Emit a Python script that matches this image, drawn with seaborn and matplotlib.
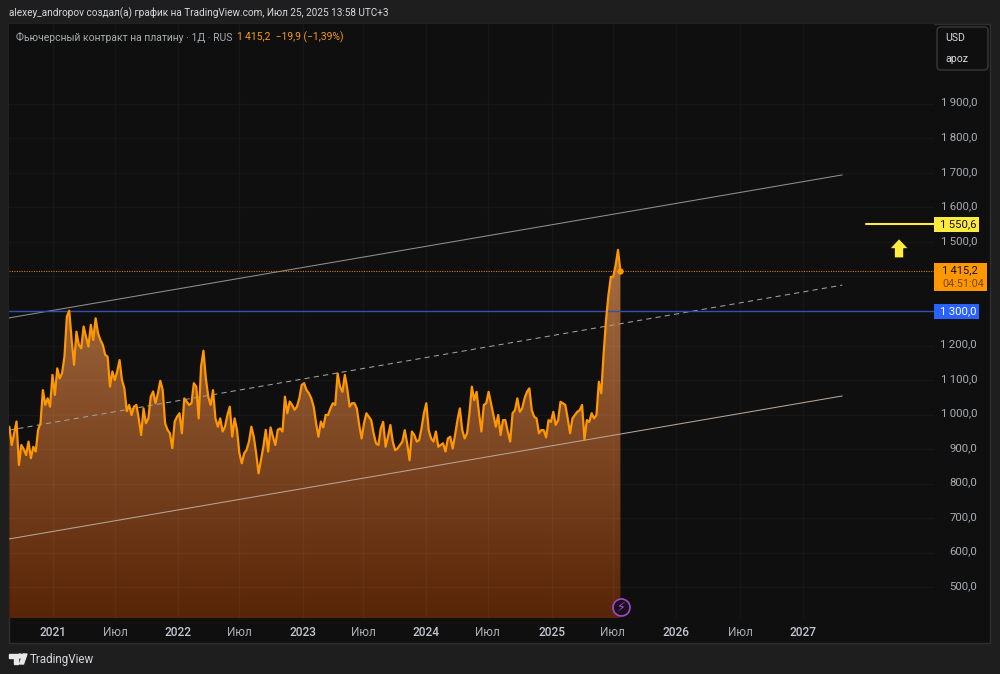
import pandas as pd
import numpy as np
import seaborn as sns
import matplotlib.pyplot as plt
import matplotlib.dates as mdates
from matplotlib.patches import Rectangle, FancyBboxPatch, Circle, Polygon
from matplotlib.transforms import Affine2D, ScaledTranslation
from matplotlib.ticker import FuncFormatter

# weekly closes of the platinum future
start_date = '2020-08-26'
close = [
    965, 912, 946, 980, 854, 912, 900, 883, 922, 874, 907, 893, 956, 975, 1071, 1028, 1047, 1023, 1115, 1057,
    1134, 1105, 1120, 1168, 1284, 1301, 1216, 1144, 1240, 1202, 1192, 1255, 1226, 1197, 1260, 1216, 1279, 1236, 1216, 1202,
    1173, 1168, 1081, 1125, 1100, 1125, 1158, 1100, 1076, 1010, 1028, 999, 1023, 1028, 989, 941, 1018, 975, 989, 1052,
    1067, 1033, 1062, 1098, 1071, 975, 956, 946, 903, 980, 994, 1004, 946, 1047, 1038, 1028, 1033, 1091, 1081, 989,
    1139, 1185, 1105, 1052, 1028, 1071, 989, 965, 989, 951, 965, 999, 1023, 936, 989, 956, 888, 859, 888, 898,
    922, 965, 936, 888, 830, 869, 907, 956, 893, 963, 936, 912, 956, 960, 951, 1052, 1004, 1038, 1028, 1014,
    1023, 1047, 1086, 1091, 1071, 1062, 1047, 1023, 975, 936, 980, 963, 999, 999, 1018, 1033, 1028, 1119, 1081, 1066,
    1115, 1076, 1023, 1033, 1033, 1018, 970, 931, 975, 1004, 994, 984, 946, 917, 912, 960, 979, 907, 936, 970,
    922, 897, 902, 912, 922, 955, 917, 868, 951, 941, 922, 926, 960, 1004, 1033, 955, 931, 922, 951, 907,
    912, 917, 893, 931, 936, 902, 941, 984, 1018, 955, 931, 946, 1004, 1081, 1042, 1066, 1004, 951, 1028, 1033,
    1066, 1033, 999, 965, 999, 941, 984, 984, 951, 922, 1004, 1013, 1047, 1008, 1018, 1047, 1066, 1076, 1013, 994,
    989, 946, 955, 955, 934, 984, 979, 1008, 970, 984, 1037, 1033, 1028, 989, 946, 989, 999, 1008, 1013, 1028,
    928, 984, 979, 1004, 989, 999, 1095, 1062, 1177, 1274, 1346, 1399, 1399, 1433, 1477, 1415.2,
]

# channel lines: start and end date, then the value at each end
channel_dates = ['2020-08-25', '2027-04-25']
channel_top = [1280, 1694]
channel_mid = [955, 1375]
channel_low = [640, 1054]

last_price = 1415.2
level_blue = 1300.0
level_yellow = 1550.6
yellow_from = '2027-07-04'
arrow_tip = 1509
arrow_tail = 1454
arrow_date = '2027-10-08'

price_ticks = [500, 600, 700, 800, 900, 1000, 1100, 1200, 1300, 1400, 1500, 1600, 1700, 1800, 1900]
# these two sit behind the price tags in the reference
hidden_ticks = [1300, 1400]
time_ticks = ['2021-01-01', '2021-07-01', '2022-01-01', '2022-06-28', '2023-01-01', '2023-06-26', '2023-12-26',
              '2024-06-24', '2024-12-29', '2025-06-23', '2025-12-26', '2026-07-01', '2027-01-01']
time_labels = ['2021', 'Июл', '2022', 'Июл', '2023', 'Июл', '2024', 'Июл', '2025', 'Июл', '2026', 'Июл', '2027']

sns.set_theme(style='dark')
plt.rcParams['font.family'] = ['Roboto', 'DejaVu Sans']

df = pd.DataFrame({'date': pd.date_range(start_date, periods=len(close), freq='7D'), 'close': close})

W, H = 1000, 674
fig = plt.figure(figsize=(W / 100, H / 100), dpi=100, facecolor='#1e1e1e')
# pixel coords of the reference, origin top left
px = Affine2D().scale(1 / W, -1 / H).translate(0, 1) + fig.transFigure

fig.add_artist(Rectangle((9, 24), 981, 619, transform=px, facecolor='#0f0f0f', edgecolor='#2e2e2e', lw=1, zorder=-1))

ax = fig.add_axes([9 / W, 1 - 618 / H, 925 / W, 594 / H], facecolor='#0f0f0f')
x_left = pd.Timestamp('2020-08-25')
x_right = pd.Timestamp('2028-01-18')
y_low = 1300 - (618 - 311) / 0.3454
y_high = 1300 + (311 - 24) / 0.3454

# gradient area under the line
grad = np.linspace(0, 1, 256).reshape(-1, 1)
top_col = np.array([0xa8, 0x6e, 0x42]) / 255
bot_col = np.array([0x58, 0x25, 0x08]) / 255
img = top_col + (bot_col - top_col) * grad[:, :, None]
area = ax.fill_between(df['date'], df['close'], y_low, color='none')
im = ax.imshow(img, aspect='auto', zorder=1,
               extent=[mdates.date2num(x_left), mdates.date2num(x_right), y_low, 1480])
im.set_clip_path(area.get_paths()[0], transform=ax.transData)


def price_label(v, pos):
    if int(v) in hidden_ticks:
        return ''
    return f'{int(v):,}'.replace(',', '\u2009') + ',0'


ax.set_xticks(pd.to_datetime(time_ticks))
ax.set_xticklabels(time_labels)
ax.set_yticks(price_ticks)
ax.yaxis.tick_right()
ax.yaxis.set_major_formatter(FuncFormatter(price_label))
ax.grid(True, color='white', alpha=0.03, lw=1, zorder=2)
ax.set_axisbelow(False)
ax.tick_params(axis='y', length=0, pad=31, labelsize=8.2, labelcolor='#a9acb3')
ax.tick_params(axis='x', length=0, pad=5.5, labelsize=8.6, labelcolor='#c4c7cf')
label_up = ScaledTranslation(0, 1.5 / 72, fig.dpi_scale_trans)
for lab in ax.get_yticklabels():
    lab.set_ha('right')
    lab.set_va('center_baseline')
    lab.set_transform(lab.get_transform() + label_up)
for lab in ax.get_xticklabels():
    if lab.get_text() != 'Июл':
        lab.set_fontweight('medium')
    else:
        lab.set_color('#a9acb3')
for s in ax.spines.values():
    s.set_visible(False)

chan_x = pd.to_datetime(channel_dates)
ax.plot(chan_x, channel_top, color='#8f8f8f', lw=0.75, zorder=3)
ax.plot(chan_x, channel_mid, color='#a0a0a0', lw=0.75, ls=(0, (5, 4)), zorder=3)
ax.plot(chan_x, channel_low, color='#b8a596', lw=0.75, zorder=3)

ax.axhline(level_blue, color='#3450a8', lw=1, zorder=3)
ax.axhline(last_price, color='#d07c08', lw=0.8, ls=(0, (1, 1.2)), zorder=3)
ax.plot(pd.to_datetime([yellow_from, x_right]), [level_yellow, level_yellow], color='#ffeb3b', lw=1.5, zorder=3)

sns.lineplot(data=df, x='date', y='close', ax=ax, color='#ff9800', lw=1.6, zorder=4, legend=False)
ax.plot(df['date'].iloc[-1], last_price, 'o', color='#ff9800', ms=3.6, zorder=5)

ax.annotate('', xy=(pd.Timestamp(arrow_date), arrow_tip), xytext=(pd.Timestamp(arrow_date), arrow_tail),
            arrowprops=dict(facecolor='#ffeb3b', edgecolor='#111111', width=6.5, headwidth=13, headlength=7, shrink=0, lw=0.5),
            zorder=6)

ax.set_xlim(x_left, x_right)
ax.set_ylim(y_low, y_high)
ax.set_xlabel('')
ax.set_ylabel('')

# header and legend
fig.text(9 / W, 1 - 13 / H, 'alexey_andropov создал(а) график на TradingView.com, Июл 25, 2025 13:58 UTC+3',
         color='#d8d9dd', fontsize=7.2, va='center')
fig.text(16 / W, 1 - 37.5 / H, 'Фьючерсный контракт на платину · 1Д · RUS', color='#a9acb3', fontsize=7.5, va='center')
fig.text(237 / W, 1 - 37.5 / H, '1\u2009415,2  −19,9 (−1,39%)', color='#f59a1a', fontsize=7.5, va='center')

# USD / apoz box
fig.add_artist(FancyBboxPatch((940, 30), 45, 37, boxstyle='round,pad=3,rounding_size=4', transform=px,
                              facecolor='#0f0f0f', edgecolor='#3a3a3a', lw=1))
fig.text(945 / W, 1 - 38 / H, 'USD', color='#d8d9dd', fontsize=7.6, va='center')
fig.text(945 / W, 1 - 58.5 / H, 'apoz', color='#d8d9dd', fontsize=7.6, va='center')

# price tags on the axis
fig.add_artist(Rectangle((934, 217), 45, 14.5, transform=px, facecolor='#ffeb3b', edgecolor='none', zorder=10))
fig.text(977 / W, 1 - 224.5 / H, '1\u2009550,6', color='#111111', fontsize=8.2, ha='right', va='center', zorder=11)
fig.add_artist(Rectangle((934, 263), 53, 28, transform=px, facecolor='#ff9800', edgecolor='none', zorder=10))
fig.text(942 / W, 1 - 270 / H, '1\u2009415,2', color='#111111', fontsize=8, va='center', zorder=11)
fig.text(942 / W, 1 - 283.5 / H, '04:51:04', color='#7a4604', fontsize=7.8, va='center', zorder=11)
fig.add_artist(Rectangle((934, 304), 45, 14.5, transform=px, facecolor='#2962ff', edgecolor='none', zorder=10))
fig.text(977 / W, 1 - 311.5 / H, '1\u2009300,0', color='#ffffff', fontsize=8.2, ha='right', va='center', zorder=11)

# lightning mark at the bottom of the series
fig.add_artist(Circle((621.5, 607.5), 8.5, transform=px, facecolor='#1a1020', edgecolor='#a048c8', lw=1.2, zorder=10))
fig.text(621.5 / W, 1 - 607.5 / H, '\u26a1', color='#b050d8', fontsize=9, ha='center', va='center', zorder=11,
         family=['DejaVu Sans'])

# logo
logo_col = '#e8e8e8'
fig.add_artist(Polygon([(9, 654), (18, 654), (18, 664), (13.5, 664), (13.5, 658), (9, 658)], transform=px, color=logo_col))
fig.add_artist(Circle((20, 656), 2, transform=px, color=logo_col))
fig.add_artist(Polygon([(19.5, 664), (23, 654), (27, 654), (23.5, 664)], transform=px, color=logo_col))
fig.text(30 / W, 1 - 659.5 / H, 'TradingView', color='#d8d9dd', fontsize=8.4, va='center')

fig.savefig('out.png', dpi=100, facecolor=fig.get_facecolor())
